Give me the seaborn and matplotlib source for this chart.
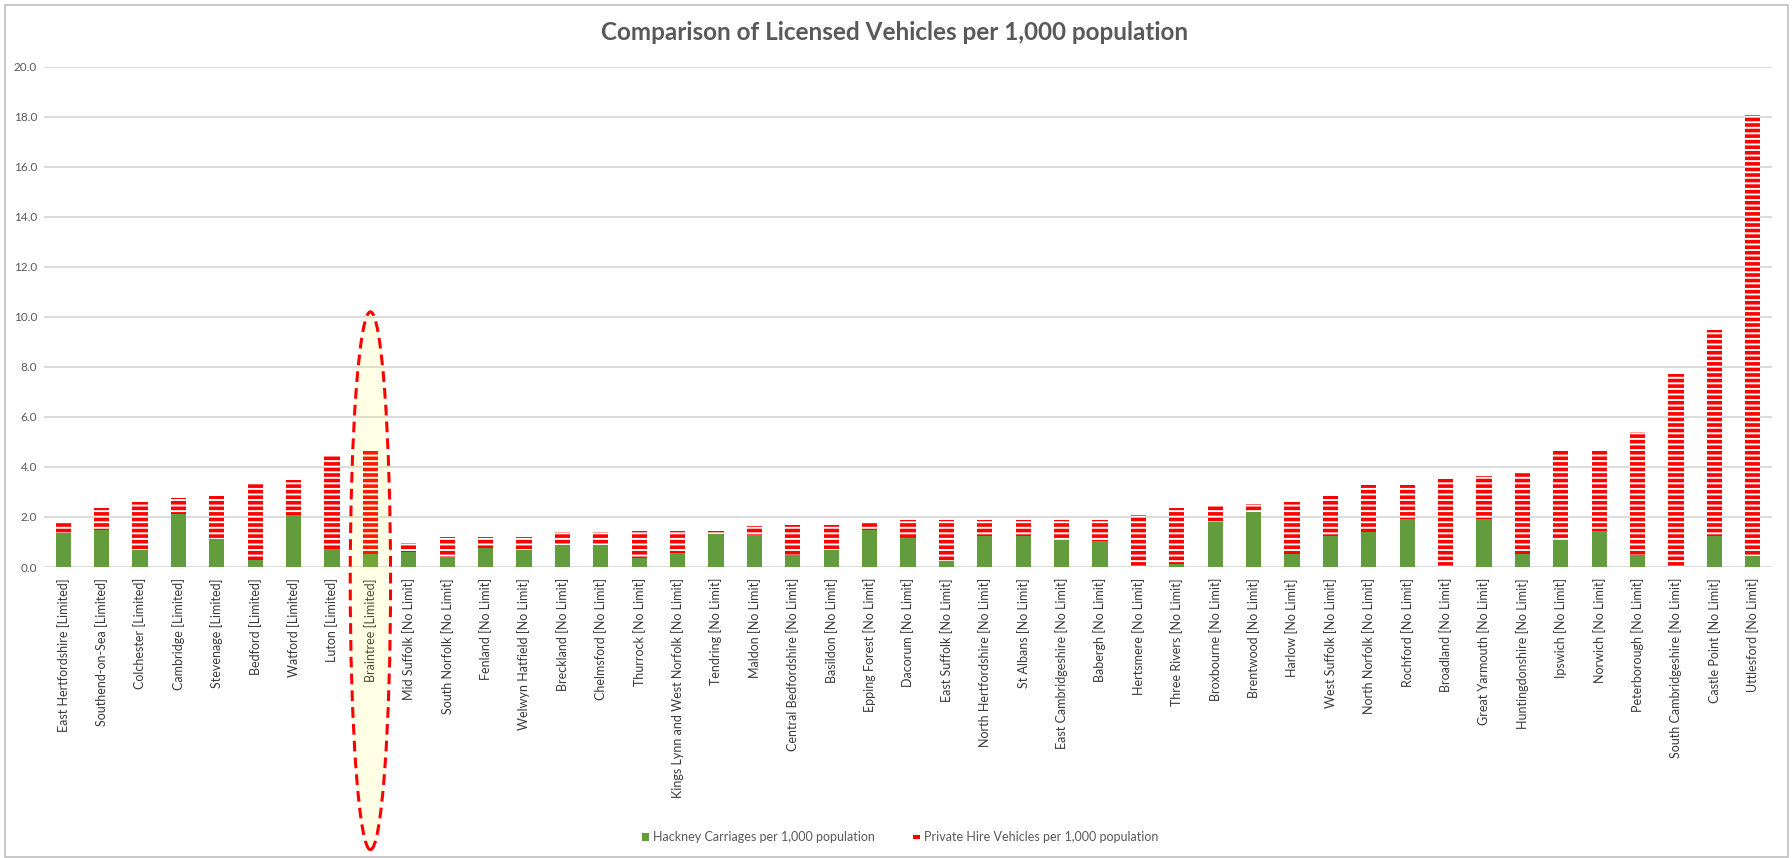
import matplotlib
matplotlib.use("Agg")
import matplotlib.pyplot as plt
from matplotlib.patches import Ellipse, Patch, Rectangle
from matplotlib.lines import Line2D
import seaborn as sns
import pandas as pd

# Licensing authorities, ordered by total licensed vehicles per 1,000 population
authorities = [
    "East Hertfordshire [Limited]", "Southend-on-Sea [Limited]", "Colchester [Limited]",
    "Cambridge [Limited]", "Stevenage [Limited]", "Bedford [Limited]", "Watford [Limited]",
    "Luton [Limited]", "Braintree [Limited]", "Mid Suffolk [No Limit]",
    "South Norfolk [No Limit]", "Fenland [No Limit]", "Welwyn Hatfield [No Limit]",
    "Breckland [No Limit]", "Chelmsford [No Limit]", "Thurrock [No Limit]",
    "Kings Lynn and West Norfolk [No Limit]", "Tendring [No Limit]", "Maldon [No Limit]",
    "Central Bedfordshire [No Limit]", "Basildon [No Limit]", "Epping Forest [No Limit]",
    "Dacorum [No Limit]", "East Suffolk [No Limit]", "North Hertfordshire [No Limit]",
    "St Albans [No Limit]", "East Cambridgeshire [No Limit]", "Babergh [No Limit]",
    "Hertsmere [No Limit]", "Three Rivers [No Limit]", "Broxbourne [No Limit]",
    "Brentwood [No Limit]", "Harlow [No Limit]", "West Suffolk [No Limit]",
    "North Norfolk [No Limit]", "Rochford [No Limit]", "Broadland [No Limit]",
    "Great Yarmouth [No Limit]", "Huntingdonshire [No Limit]", "Ipswich [No Limit]",
    "Norwich [No Limit]", "Peterborough [No Limit]", "South Cambridgeshire [No Limit]",
    "Castle Point [No Limit]", "Uttlesford [No Limit]",
]

hackney_per_1000 = [
    1.37, 1.47, 0.67, 2.13, 1.10, 0.29, 2.09, 0.70, 0.52, 0.59,
    0.40, 0.76, 0.67, 0.87, 0.89, 0.36, 0.56, 1.33, 1.29, 0.47,
    0.69, 1.47, 1.16, 0.23, 1.25, 1.25, 1.09, 1.03, 0.00, 0.12,
    1.79, 2.20, 0.52, 1.23, 1.40, 1.93, 0.00, 1.92, 0.53, 1.09,
    1.45, 0.48, 0.00, 1.23, 0.43,
]

private_hire_per_1000 = [
    0.43, 0.90, 1.94, 0.61, 1.73, 3.01, 1.37, 3.78, 4.12, 0.37,
    0.80, 0.44, 0.53, 0.52, 0.50, 1.07, 0.87, 0.10, 0.34, 1.20,
    0.98, 0.33, 0.73, 1.66, 0.64, 0.64, 0.80, 0.86, 2.07, 2.24,
    0.70, 0.33, 2.08, 1.60, 1.89, 1.36, 3.52, 1.73, 3.23, 3.54,
    3.22, 4.92, 7.70, 8.23, 17.64,
]

highlighted = "Braintree [Limited]"

y_ticks = [0, 2, 4, 6, 8, 10, 12, 14, 16, 18, 20]

GREEN = "#629C3C"
RED = "#FF0000"
TEXT = "#595959"
GRID = "#D9D9D9"

df = pd.DataFrame({
    "authority": authorities,
    "hackney": hackney_per_1000,
    "private_hire": private_hire_per_1000,
})
df["total"] = df["hackney"] + df["private_hire"]

sns.set_theme(style="white")
plt.rcParams["font.family"] = ["Lato", "DejaVu Sans"]
plt.rcParams["hatch.linewidth"] = 2.6

fig = plt.figure(figsize=(17.92, 8.58), dpi=100)
ax = fig.add_axes([44 / 1792, 1 - 567 / 858, (1772 - 44) / 1792, (567 - 66.7) / 858])

# Private hire stacked on hackney: striped total underneath, solid hackney on top
sns.barplot(data=df, x="authority", y="total", color="white", width=0.4,
            hatch="---", edgecolor=RED, linewidth=0, ax=ax, zorder=2)
sns.barplot(data=df, x="authority", y="hackney", color=GREEN, width=0.4,
            linewidth=0, saturation=1, ax=ax, zorder=3)

ax.set_ylim(0, 20)
ax.set_xlim(-0.5, len(authorities) - 0.5)
ax.set_yticks(y_ticks)
ax.set_yticklabels([f"{v:.1f}" for v in y_ticks], fontsize=8.5, color=TEXT)
ax.yaxis.grid(True, color=GRID, linewidth=1.3, zorder=0)
ax.set_axisbelow(True)
ax.set_xlabel("")
ax.set_ylabel("")
for side in ["top", "right", "left", "bottom"]:
    ax.spines[side].set_visible(False)
ax.tick_params(axis="y", length=0, pad=5)
ax.tick_params(axis="x", length=0, pad=8)
ax.set_xticks(range(len(authorities)))
ax.set_xticklabels(authorities, rotation=90, fontsize=9, color="#3A3A3A")

# Highlight ring around the selected authority
idx = authorities.index(highlighted)
ring = Ellipse((idx, -0.55), width=1.05, height=21.5,
               facecolor=(1.0, 1.0, 0.0, 0.10), edgecolor=RED,
               linewidth=2.2, linestyle=(0, (3.5, 2)), zorder=10, clip_on=False)
ax.add_patch(ring)

fig.text(0.5 * (600 + 1189) / 1792, 1 - 33 / 858,
         "Comparison of Licensed Vehicles per 1,000 population",
         ha="center", va="center", fontsize=17.5, fontweight="bold", color=TEXT)

handles = [
    Patch(facecolor=GREEN, edgecolor="none"),
    Line2D([], [], color=RED, linewidth=3, solid_capstyle="butt"),
]
labels = ["Hackney Carriages per 1,000 population",
          "Private Hire Vehicles per 1,000 population"]
fig.legend(handles, labels, loc="center", bbox_to_anchor=(900 / 1792, 1 - 837 / 858),
           ncol=2, frameon=False, fontsize=9, labelcolor=TEXT,
           handlelength=0.6, handleheight=0.6, handletextpad=0.3, columnspacing=3.0)

# Chart area border
fig.patches.append(Rectangle((5 / 1792, 1 / 858), 1783 / 1792, 852 / 858,
                             transform=fig.transFigure, fill=False,
                             edgecolor="#BFBFBF", linewidth=1.2))

fig.savefig("out.png", dpi=100, facecolor="white")
